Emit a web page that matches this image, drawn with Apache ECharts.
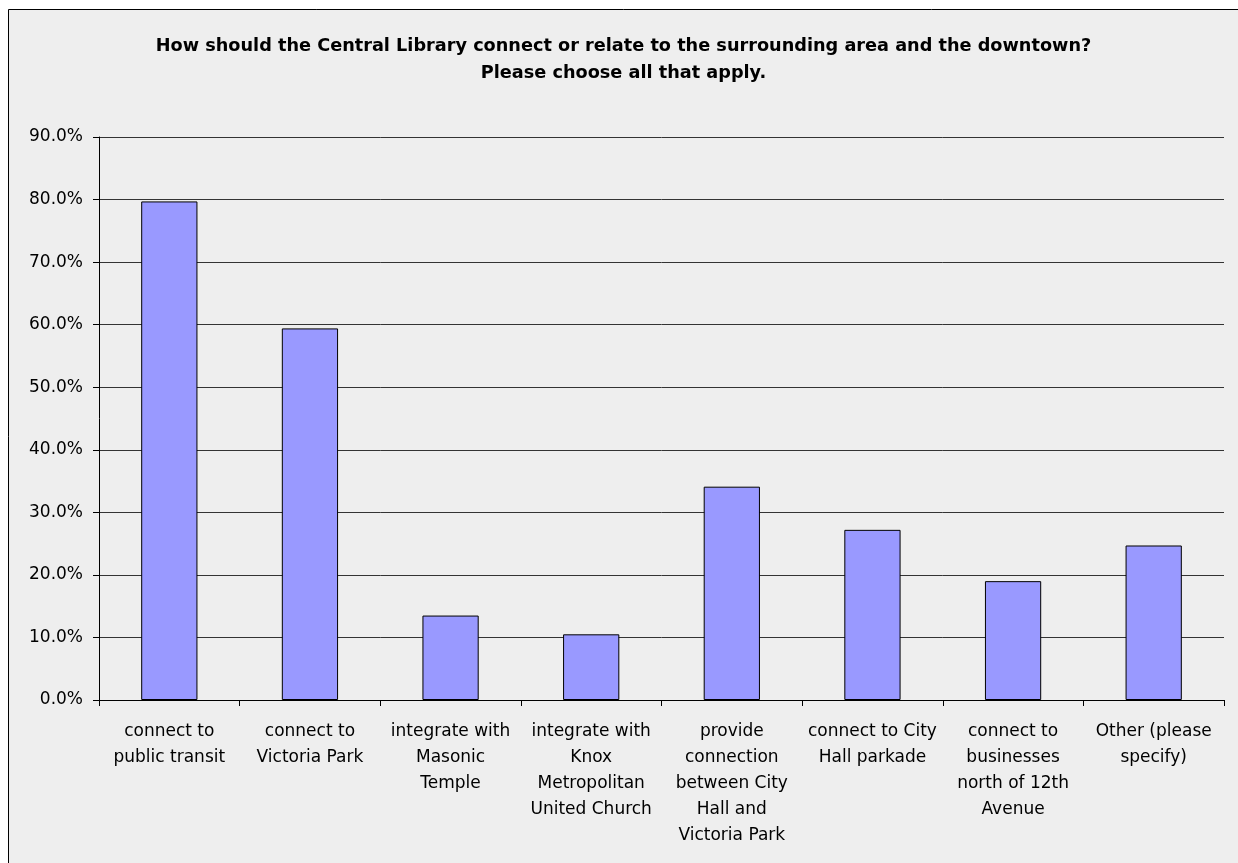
<!DOCTYPE html>
<html>
<head>
<meta charset="utf-8">
<script src="https://cdn.jsdelivr.net/npm/echarts@6/dist/echarts.min.js"></script>
<style>
html,body{margin:0;padding:0;background:#ffffff;}
#chart{width:1238px;height:863px;}
</style>
</head>
<body>
<div id="chart"></div>
<script>
var titleLines = [
  "How should the Central Library connect or relate to the surrounding area and the downtown?",
  "Please choose all that apply."
];
var categories = [
  "connect to\npublic transit",
  "connect to\nVictoria Park",
  "integrate with\nMasonic\nTemple",
  "integrate with\nKnox\nMetropolitan\nUnited Church",
  "provide\nconnection\nbetween City\nHall and\nVictoria Park",
  "connect to City\nHall parkade",
  "connect to\nbusinesses\nnorth of 12th\nAvenue",
  "Other (please\nspecify)"
];
var values = [79.7, 59.4, 13.5, 10.5, 34.1, 27.2, 19.0, 24.7];
var yMin = 0, yMax = 90, yStep = 10;

var chart = echarts.init(document.getElementById('chart'), null, {renderer: 'canvas'});
var font = 'DejaVu Sans';
chart.setOption({
  backgroundColor: '#ffffff',
  animation: false,
  graphic: [{
    type: 'rect', z: -10, silent: true,
    shape: {x: 8.5, y: 9.5, width: 1240, height: 870},
    style: {fill: '#eeeeee', stroke: '#000000', lineWidth: 1}
  }, {
    type: 'text', silent: true, z: 10,
    x: 623.5, y: 33,
    style: {text: titleLines.join('\n'), align: 'center', verticalAlign: 'top',
      font: 'bold 17.7px "DejaVu Sans"', lineHeight: 27, fill: '#000'}
  }],
  grid: {left: 99, right: 14, top: 137, bottom: 163, containLabel: false},
  xAxis: {
    type: 'category',
    data: categories,
    axisLine: {show: true, lineStyle: {color: '#000', width: 1}},
    axisTick: {show: true, length: 6, interval: 0, lineStyle: {color: '#000'}},
    axisLabel: {interval: 0, margin: 19, fontFamily: font, fontSize: 17, lineHeight: 26, color: '#000'},
    splitLine: {show: false}
  },
  yAxis: {
    type: 'value',
    min: yMin, max: yMax, interval: yStep,
    axisLine: {show: true, lineStyle: {color: '#000', width: 1}},
    axisTick: {show: true, length: 6, lineStyle: {color: '#000'}},
    axisLabel: {margin: 16, fontFamily: font, fontSize: 17, color: '#000',
      formatter: function (v) { return v.toFixed(1) + '%'; }},
    splitLine: {show: true, lineStyle: {color: '#333', width: 1}}
  },
  series: [{
    type: 'bar',
    data: values,
    barWidth: '40%',
    itemStyle: {color: '#9999ff', borderColor: '#000', borderWidth: 1}
  }]
});
</script>
</body>
</html>
